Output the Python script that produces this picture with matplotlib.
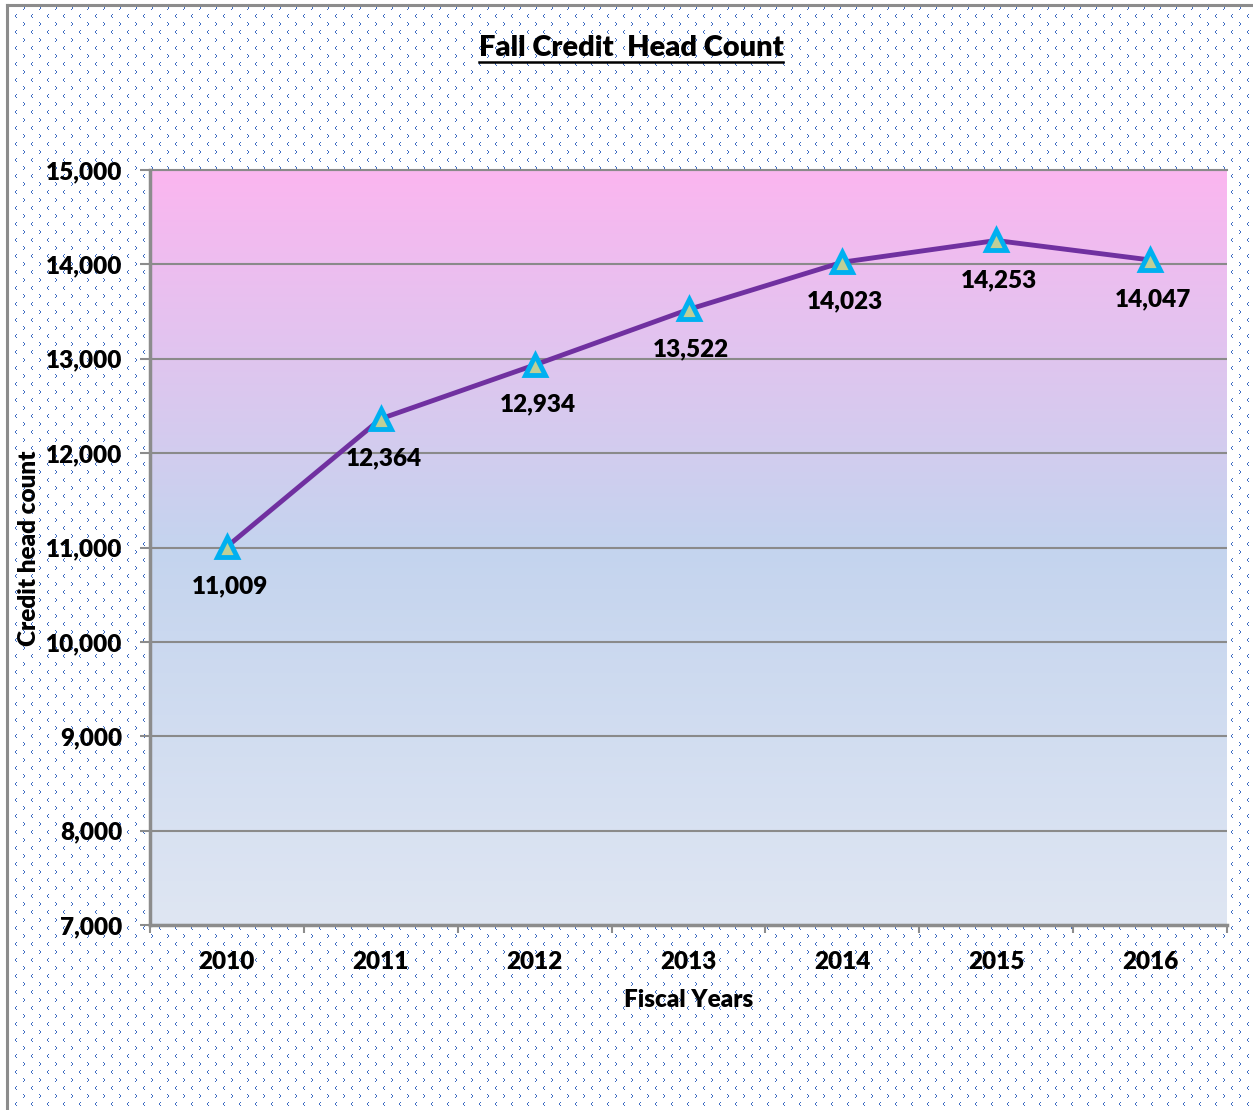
import numpy as np
import matplotlib
matplotlib.use('Agg')
import matplotlib.pyplot as plt
from matplotlib.colors import LinearSegmentedColormap
from matplotlib.ticker import FuncFormatter, FixedLocator
from matplotlib.lines import Line2D

# ---------------- data ----------------
years = ['2010', '2011', '2012', '2013', '2014', '2015', '2016']
headcount = [11009, 12364, 12934, 13522, 14023, 14253, 14047]
y_ticks = [7000, 8000, 9000, 10000, 11000, 12000, 13000, 14000, 15000]
title = 'Fall Credit  Head Count'
xlabel = 'Fiscal Years'
ylabel = 'Credit head count'

W, H, DPI = 1253, 1110, 100
plt.rcParams['font.family'] = ['Lato', 'DejaVu Sans']
FS = 17.5
WT = 'heavy'

fig = plt.figure(figsize=(W / DPI, H / DPI), dpi=DPI)
fig.patch.set_facecolor('white')

# ---------------- background texture ----------------
bg = np.ones((H, W, 3))
blue = np.array([62, 108, 194]) / 255.0
tile = np.ones((16, 16, 3))
for dx, dy in [(0, 0), (1, 1), (1, 2), (0, 3)]:
    tile[6 + dy, 7 + dx] = blue
for dx, dy in [(1, 0), (0, 1), (0, 2), (1, 3)]:
    tile[(14 + dy) % 16, (15 + dx) % 16] = blue
pat = np.tile(tile, (H // 16 + 1, W // 16 + 1, 1))[:H, :W]
x0, y0 = 7, 5
bg[y0:, x0:] = pat[y0:, x0:]
fig.figimage(bg, xo=0, yo=0, origin='upper', zorder=-10)
border = '#8c8c8c'
fig.add_artist(Line2D([x0 / W, x0 / W], [0, 1 - y0 / H], transform=fig.transFigure,
                      color=border, lw=2.2))
fig.add_artist(Line2D([x0 / W, 1], [1 - y0 / H, 1 - y0 / H], transform=fig.transFigure,
                      color=border, lw=2.2))

# ---------------- main axes ----------------
L, R, T, B = 150, 1227, 170, 925
ax = fig.add_axes([L / W, 1 - B / H, (R - L) / W, (B - T) / H])
xs = np.arange(len(years))
ax.set_xlim(-0.5, len(years) - 0.5)
ax.set_ylim(y_ticks[0], y_ticks[-1])
ax.patch.set_alpha(0)

cmap = LinearSegmentedColormap.from_list(
    'g', [(0, '#DFE6F3'), (0.5, '#C4D4EE'), (1, '#FBB6F0')])
grad = np.linspace(0, 1, 256).reshape(-1, 1)
ax.imshow(grad, extent=(-0.5, len(years) - 0.5, y_ticks[0], y_ticks[-1]),
          origin='lower', aspect='auto', cmap=cmap, zorder=0)

ax.set_axisbelow(True)
ax.yaxis.grid(True, color='#8a8a8a', lw=1.5)
ax.xaxis.grid(False)

ax.spines['right'].set_visible(False)
for s in ['left', 'bottom']:
    ax.spines[s].set_color(border)
    ax.spines[s].set_linewidth(2.5)
ax.spines['top'].set_color('#8a8a8a')
ax.spines['top'].set_linewidth(1.5)

ax.set_yticks(y_ticks)
ax.yaxis.set_major_formatter(FuncFormatter(lambda v, p: f'{int(v):,}'))
ax.tick_params(axis='y', direction='out', length=7, width=1.5, color=border,
               pad=13, labelsize=FS)
ax.set_xticks(xs)
ax.set_xticklabels(years)
ax.xaxis.set_minor_locator(FixedLocator(np.arange(-0.5, len(years), 1.0)))
ax.tick_params(axis='x', which='major', length=0, pad=18.5, labelsize=FS)
ax.tick_params(axis='x', which='minor', direction='out', length=6, width=1.5,
               color=border)
for lab in ax.get_xticklabels() + ax.get_yticklabels():
    lab.set_fontweight(WT)

ax.plot(xs, headcount, color='#7030A0', lw=3.5, zorder=3, solid_capstyle='round')
ax.plot(xs, headcount, ls='none', marker='^', ms=15, mfc='#BFCF96',
        mec='#00B0F0', mew=3.5, zorder=4)

for x, v in zip(xs, headcount):
    ax.annotate(f'{v:,}', (x, v), xytext=(2, -28.5), textcoords='offset points',
                ha='center', va='center', fontsize=FS, fontweight=WT,
                zorder=5)

# ---------------- texts ----------------
t = fig.text(631 / W, 1 - 47.5 / H, title, ha='center', va='center',
             fontsize=21, fontweight=WT)
fig.text(29 / W, 1 - 548 / H, ylabel, rotation=90, ha='center', va='center',
         fontsize=FS, fontweight=WT)
fig.text(689 / W, 1 - 1000 / H, xlabel, ha='center', va='center',
         fontsize=FS, fontweight=WT)

fig.canvas.draw()
bb = t.get_window_extent()
uy = bb.y0 - 1
fig.add_artist(Line2D([bb.x0 / W, bb.x1 / W], [uy / H, uy / H],
                      transform=fig.transFigure, color='black', lw=1.8))

fig.savefig('out.png', dpi=DPI)
